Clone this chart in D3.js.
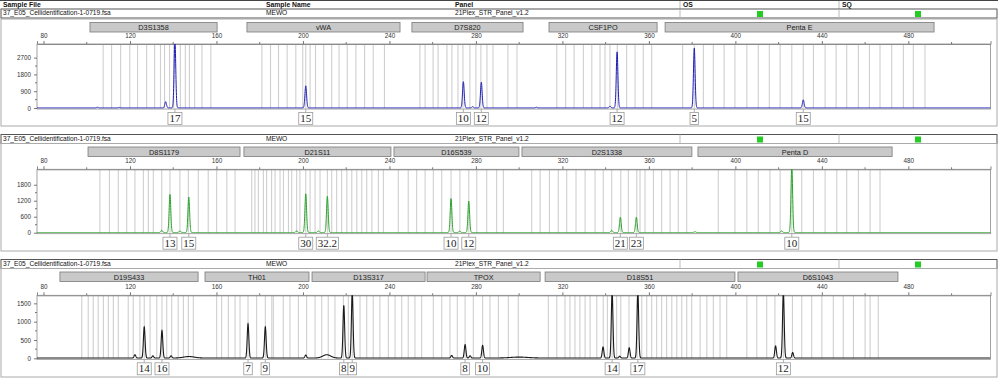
<!DOCTYPE html>
<html>
<head>
<meta charset="utf-8">
<script src="https://cdn.jsdelivr.net/npm/d3@7"></script>
<style>
  body { margin: 0; background: #fff; }
  svg { display: block; font-family: Arial, "Liberation Sans", sans-serif; }
</style>
</head>
<body>
<svg width="1000" height="378"></svg>
<script>
    // ---- data ----
    const sampleFile = '37_E05_Cellidentification-1-0719.fsa';
    const sampleName = 'MEWO';
    const panelName = '21Plex_STR_Panel_v1.2';
    const xTicks = [80, 120, 160, 200, 240, 280, 320, 360, 400, 440, 480];

    // blue dye
    const blueMarkers = [['D3S1358', 101.5, 160.3], ['vWA', 174.1, 244.9], ['D7S820', 250.4, 301.8],
        ['CSF1PO', 313.8, 363.8], ['Penta E', 367.5, 491.9]];
    const blueBins = [107.6, 111.5, 115.7, 119.9, 123.5, 127.7, 131.4, 134.1, 136.0, 138.3, 140.2, 143.3, 145.6, 147.5, 149.9, 153.3, 157.4,
        181.0, 185.0, 188.7, 192.7, 196.7, 199.9, 201.3, 203.3, 205.8, 209.6, 213.3, 216.7, 220.5, 224.5, 228.5, 232.5, 237.7,
        254.1, 256.5, 260.2, 262.5, 266.6, 268.9, 271.7, 274.0, 277.2, 280.0, 282.3, 285.1, 287.9, 294.8, 299.0,
        317.4, 321.5, 325.4, 329.7, 333.6, 337.4, 339.7, 342.0, 345.4, 349.7, 353.6, 357.4, 361.3,
        375.6, 381.0, 385.2, 389.8, 394.8, 399.8, 405.3, 410.6, 415.7, 420.7, 426.1, 431.4, 436.1, 441.5, 446.6, 451.5, 456.9, 462.0, 466.9, 472.3, 477.7, 482.3, 487.7];
    const bluePeaks = [[105, 30], [115, 25], [136.5, 330], [140.8, 3600], [201.3, 1180], [274.2, 1400], [278.5, 60],
        [282.5, 1370], [308, 30], [342, 90], [345.3, 3000], [381, 3200], [431.4, 430]];
    const blueCalls = [[140.8, '17'], [201.3, '15'], [274.2, '10'], [282.5, '12'], [345.3, '12'], [381, '5'], [431.4, '15']];
    const blueTicks = [0, 900, 1800, 2700];

    // green dye
    const greenMarkers = [['D8S1179', 100.6, 170.9], ['D21S11', 172.7, 240.7], ['D16S539', 242.1, 299.9],
        ['D2S1338', 301.3, 379.9], ['Penta D', 382.7, 472.5]];
    const greenBins = [106.1, 110.5, 114.6, 118.5, 122.3, 126.2, 128.5, 130.8, 134.7, 138.5, 143.1, 147.0, 151.6, 156.2, 160.1, 164.8, 168.6,
        176.3, 177.8, 179.4, 181.7, 183.2, 185.5, 187.1, 189.4, 191.0, 193.3, 194.8, 197.1, 198.6, 201.3, 203.3, 205.6, 207.9, 211.3, 213.3,
        215.6, 217.9, 220.3, 222.6, 224.9, 227.2, 229.5, 231.9, 234.9, 237.2,
        244.1, 248.7, 252.6, 256.5, 260.3, 264.2, 268.5, 272.6, 276.7, 280.4, 285.0, 289.6, 292.7,
        305.8, 309.7, 314.0, 318.1, 322.0, 326.3, 330.5, 335.1, 338.9, 342.8, 347.0, 350.5, 354.4, 355.9, 358.2, 362.1, 365.9, 369.8, 373.6, 377.5,
        392.1, 399.8, 405.3, 410.6, 416.0, 420.7, 426.1, 430.7, 436.1, 441.5, 446.9, 451.5, 456.9, 462.3, 466.9];
    const greenPeaks = [[134.7, 80], [138.5, 1430], [143.1, 60], [147.2, 1330], [197.1, 60], [201.3, 1450], [207.1, 60],
        [211.3, 1360], [268.5, 1275], [272.5, 50], [276.7, 1175], [342.8, 80], [346.8, 575], [354.2, 575],
        [381.3, 30], [421.4, 60], [426.1, 2500]];
    const greenCalls = [[138.5, '13'], [147.2, '15'], [201.3, '30'], [211.3, '32.2'], [268.5, '10'], [276.7, '12'],
        [346.8, '21'], [354.2, '23'], [426.1, '10']];
    const greenTicks = [0, 600, 1200, 1800];

    // black dye
    const blackMarkers = [['D19S433', 87.6, 151.5], ['TH01', 154.7, 202.8], ['D13S317', 204.2, 256.5],
        ['TPOX', 257.4, 309.7], ['D18S51', 312.0, 399.8], ['D6S1043', 401.2, 475.2]];
    const blackBins = [97.7, 100.7, 103.0, 105.3, 107.7, 110.0, 112.3, 114.6, 119.2, 121.5, 124.6, 126.6, 129.3, 132.4, 134.8, 137.0, 139.3, 142.3, 144.7, 147.0, 149.3,
        160.1, 162.4, 165.5, 168.6, 170.9, 174.6, 178.6, 182.6, 185.6, 186.3, 190.9, 194.0, 197.9, 201.7,
        205.6, 208.7, 211.7, 214.8, 218.7, 221.0, 222.8, 226.4, 229.5, 232.5, 235.6, 239.5, 242.6, 245.7, 248.7, 251.8, 254.9,
        260.3, 264.2, 268.0, 271.4, 275.0, 278.8, 283.1, 286.5, 290.4, 295.0, 299.6,
        313.5, 317.4, 321.2, 323.5, 325.8, 328.1, 330.5, 332.8, 335.9, 338.9, 340.8, 343.0, 345.1, 347.0, 350.8, 354.6, 356.7, 359.0,
        361.3, 363.6, 365.9, 368.2, 370.6, 372.9, 375.2, 377.5, 379.8, 383.7, 386.8, 389.8, 392.9, 396.0,
        405.3, 409.9, 414.5, 418.3, 422.2, 426.4, 430.7, 435.3, 440.0, 445.3, 449.9, 454.6, 460.0, 462.3, 466.1];
    const blackPeaks = [[122.3, 90], [126.6, 850], [130.6, 60], [134.8, 750], [139, 60], [174.6, 930], [182.6, 850],
        [201.3, 80], [218.9, 1440], [222.8, 1800], [268.8, 70], [275, 365], [277.3, 60], [283.1, 345],
        [338.8, 300], [343, 1800], [346.5, 50], [350.9, 280], [354.9, 1800], [418.6, 330], [422.2, 1800], [426.5, 150]];
    const blackHumps = [[147.3, 40, 2.5], [211, 90, 1.8], [300, 25, 4]];
    const blackCalls = [[126.6, '14'], [134.8, '16'], [174.6, '7'], [182.6, '9'], [218.9, '8'], [222.8, '9'],
        [275, '8'], [283.1, '10'], [343, '14'], [354.9, '17'], [422.2, '12']];
    const blackTicks = [0, 500, 1000, 1500];

    // ---- drawing ----
    const svg = d3.select('svg');
    const x = d3.scaleLinear().domain([77, 518]).range([37, 990.5]);

    const infoRow = (y, withDividers) => {
        const g = svg.append('g');
        g.append('rect').attr('x', 1).attr('y', y).attr('width', 996).attr('height', 9)
            .attr('fill', '#fff').attr('stroke', '#555').attr('stroke-width', 1);
        const texts = [[3, sampleFile], [266, sampleName], [455, panelName]];
        g.selectAll('text').data(texts).enter().append('text')
            .attr('x', d => d[0]).attr('y', y + 6.4)
            .attr('font-size', 6.6).attr('fill', '#111')
            .text(d => d[1]);
        if (withDividers) {
            g.selectAll('line').data([680, 839]).enter().append('line')
                .attr('x1', d => d).attr('x2', d => d).attr('y1', y).attr('y2', y + 9)
                .attr('stroke', '#bbb');
        }
        g.selectAll('rect.q').data([757, 915]).enter().append('rect').attr('class', 'q')
            .attr('x', d => d).attr('y', y + 2).attr('width', 6).attr('height', 6)
            .attr('fill', '#22cc22');
    };

    // column titles
    svg.append('line').attr('x1', 0).attr('x2', 998).attr('y1', 0.5).attr('y2', 0.5).attr('stroke', '#444');
    svg.selectAll('text.title').data([[3, 'Sample File'], [266, 'Sample Name'], [455, 'Panel'], [683, 'OS'], [842, 'SQ']])
        .enter().append('text').attr('class', 'title')
        .attr('x', d => d[0]).attr('y', 7.3)
        .attr('font-size', 6.8).attr('font-weight', 'bold').attr('fill', '#111')
        .text(d => d[1]);
    svg.selectAll('line.hd').data([680, 839]).enter().append('line').attr('class', 'hd')
        .attr('x1', d => d).attr('x2', d => d).attr('y1', 1).attr('y2', 9).attr('stroke', '#bbb');

    const drawPanel = (props) => {
        const { top, plotTop, plotBottom, bottom, yMax, yTicks, markers, bins, peaks, humps, calls, color, lineWidth, id } = props;
        const y = d3.scaleLinear().domain([0, yMax]).range([plotBottom, plotTop]);
        const g = svg.append('g');

        // panel frame
        g.append('rect').attr('x', 1).attr('y', top).attr('width', 996).attr('height', bottom - top)
            .attr('fill', 'none').attr('stroke', '#aaa');

        // marker range boxes
        const mk = g.selectAll('g.marker').data(markers).enter().append('g');
        mk.append('rect')
            .attr('x', d => x(d[1])).attr('y', top + 3.5)
            .attr('width', d => x(d[2]) - x(d[1])).attr('height', 9.5)
            .attr('fill', '#c9c9c9').attr('stroke', '#7a7a7a').attr('stroke-width', 0.8);
        mk.append('text')
            .attr('x', d => (x(d[1]) + x(d[2])) / 2).attr('y', top + 11)
            .attr('text-anchor', 'middle').attr('font-size', 7.3).attr('fill', '#222')
            .text(d => d[0]);

        // clip for the plot
        svg.append('clipPath').attr('id', id).append('rect')
            .attr('x', x(77)).attr('y', plotTop).attr('width', x(518) - x(77)).attr('height', plotBottom - plotTop + 2);

        // bins
        g.append('g').attr('clip-path', `url(#${id})`)
            .selectAll('line').data(bins).enter().append('line')
            .attr('x1', d => x(d)).attr('x2', d => x(d))
            .attr('y1', plotTop).attr('y2', plotBottom)
            .attr('stroke', '#cfcfcf').attr('stroke-width', 1.1);

        // frame of plot
        g.append('rect').attr('x', x(77)).attr('y', plotTop)
            .attr('width', x(518) - x(77)).attr('height', plotBottom - plotTop + 1)
            .attr('fill', 'none').attr('stroke', '#8a8a8a').attr('stroke-width', 0.8);

        // top size axis
        const xAxis = d3.axisTop(x).tickValues(xTicks).tickSize(3).tickFormat(d3.format('d'));
        const ax = g.append('g').attr('transform', `translate(0,${plotTop})`).call(xAxis);
        ax.select('.domain').attr('stroke', '#8a8a8a');
        ax.selectAll('.tick line').attr('stroke', '#777');
        ax.selectAll('text').attr('font-size', 6.3).attr('fill', '#333').attr('font-family', 'Arial, "Liberation Sans", sans-serif');
        const minor = d3.range(100, 518, 40);
        g.selectAll('line.mt').data(minor).enter().append('line').attr('class', 'mt')
            .attr('x1', d => x(d)).attr('x2', d => x(d)).attr('y1', plotTop - 2).attr('y2', plotTop)
            .attr('stroke', '#777');

        // left RFU axis
        const yAxis = d3.axisLeft(y).tickValues(yTicks).tickSize(3).tickFormat(d3.format('d'));
        const ay = g.append('g').attr('transform', `translate(${x(77)},0)`).call(yAxis);
        ay.select('.domain').remove();
        ay.selectAll('.tick line').attr('stroke', '#777');
        ay.selectAll('text').attr('font-size', 6.3).attr('fill', '#333').attr('font-family', 'Arial, "Liberation Sans", sans-serif');
        const half = yTicks.slice(0, -1).map((d, i) => (d + yTicks[i + 1]) / 2);
        g.selectAll('line.my').data(half).enter().append('line').attr('class', 'my')
            .attr('x1', x(77) - 2).attr('x2', x(77)).attr('y1', d => y(d)).attr('y2', d => y(d))
            .attr('stroke', '#777');

        // signal trace built from the peak list
        const signal = bp => {
            let v = 8;
            peaks.forEach(p => { v += p[1] * Math.exp(-((bp - p[0]) ** 2) / (2 * 0.38 * 0.38)); });
            (humps || []).forEach(p => { v += p[1] * Math.exp(-((bp - p[0]) ** 2) / (2 * p[2] * p[2])); });
            return v;
        };
        const trace = d3.range(77, 518, 0.05).map(bp => [bp, signal(bp)]);
        g.append('path').datum(trace)
            .attr('clip-path', `url(#${id})`)
            .attr('fill', 'none').attr('stroke', color).attr('stroke-width', lineWidth)
            .attr('d', d3.line().x(d => x(d[0])).y(d => y(d[1])));

        // allele call boxes
        const boxTop = plotBottom + 4.5;
        const cl = g.selectAll('g.call').data(calls).enter().append('g');
        cl.append('line')
            .attr('x1', d => x(d[0])).attr('x2', d => x(d[0]))
            .attr('y1', plotBottom + 1).attr('y2', boxTop)
            .attr('stroke', '#999').attr('stroke-width', 0.8);
        const ct = cl.append('text')
            .attr('x', d => x(d[0])).attr('y', boxTop + 9.5)
            .attr('text-anchor', 'middle')
            .attr('font-family', '"Liberation Serif", "DejaVu Serif", serif')
            .attr('font-size', 11).attr('fill', '#222')
            .text(d => d[1]);
        ct.each(function (d) {
            const w = this.getComputedTextLength() + 3;
            d3.select(this.parentNode).insert('rect', 'text')
                .attr('x', x(d[0]) - w / 2).attr('y', boxTop)
                .attr('width', w).attr('height', 12)
                .attr('fill', '#fff').attr('stroke', '#9a9a9a').attr('stroke-width', 0.8);
        });
    };

    infoRow(9, true);
    drawPanel({ id: 'c1', top: 19, plotTop: 44, plotBottom: 108, bottom: 126, yMax: 3430, yTicks: blueTicks,
        markers: blueMarkers, bins: blueBins, peaks: bluePeaks, calls: blueCalls, color: '#1c1cb4', lineWidth: 1 });

    infoRow(134.5, true);
    drawPanel({ id: 'c2', top: 143.5, plotTop: 169.3, plotBottom: 232.7, bottom: 251, yMax: 2380, yTicks: greenTicks,
        markers: greenMarkers, bins: greenBins, peaks: greenPeaks, calls: greenCalls, color: '#27a127', lineWidth: 1 });

    infoRow(259.5, true);
    drawPanel({ id: 'c3', top: 268.5, plotTop: 295.3, plotBottom: 358.3, bottom: 377, yMax: 1720, yTicks: blackTicks,
        markers: blackMarkers, bins: blackBins, peaks: blackPeaks, humps: blackHumps, calls: blackCalls, color: '#1a1a1a', lineWidth: 1.1 });
</script>
</body>
</html>
